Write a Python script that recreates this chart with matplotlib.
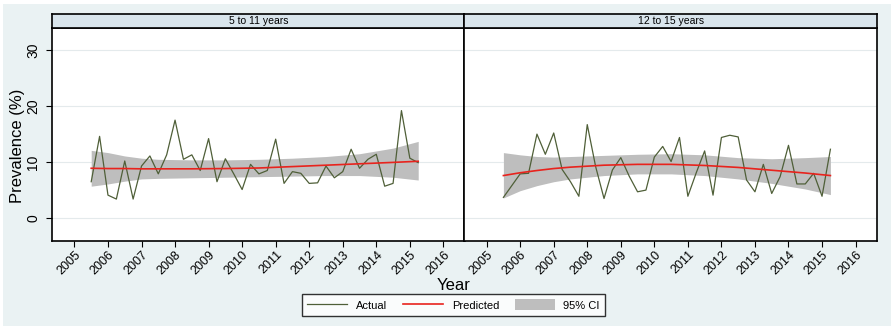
import numpy as np
import matplotlib.pyplot as plt
from matplotlib.patches import Rectangle, Patch
from matplotlib.lines import Line2D

plt.rcParams['font.family'] = ['Liberation Sans', 'DejaVu Sans']

# quarterly time points, 2005 Q3 .. 2015 Q2
quarters = np.arange(2005.5, 2015.3, 0.25)

actual_5_11 = [6.5, 14.6, 4.1, 3.4, 10.2, 3.4, 9.3, 11.1, 7.9, 11.3,
               17.5, 10.5, 11.3, 8.5, 14.2, 6.5, 10.6, 7.9, 5.1, 9.6,
               7.9, 8.5, 14.1, 6.2, 8.3, 8.0, 6.2, 6.3, 9.3, 7.2,
               8.3, 12.3, 8.9, 10.5, 11.4, 5.7, 6.2, 19.2, 10.7, 9.9]
actual_12_15 = [3.7, 5.8, 7.9, 8.0, 15.0, 11.4, 15.2, 8.7, 6.5, 3.9,
                16.7, 9.2, 3.5, 8.6, 10.8, 7.5, 4.7, 5.0, 10.9, 12.8,
                10.1, 14.4, 3.9, 8.1, 12.0, 4.1, 14.4, 14.8, 14.5, 6.8,
                4.7, 9.6, 4.4, 7.4, 13.0, 6.1, 6.1, 8.0, 3.9, 12.3]

# fitted values and 95% CI read at these years
fit_years = [2005.5, 2006.0, 2006.5, 2007.0, 2007.5, 2008.5, 2009.5,
             2010.5, 2011.5, 2012.5, 2013.5, 2014.5, 2015.25]
pred_5_11 = [8.9, 8.85, 8.85, 8.8, 8.8, 8.8, 8.85, 8.95, 9.2, 9.45, 9.7, 9.95, 10.15]
upper_5_11 = [12.1, 11.7, 11.1, 10.7, 10.5, 10.4, 10.4, 10.5, 10.7, 11.0, 11.5, 12.5, 13.7]
lower_5_11 = [5.7, 6.1, 6.6, 7.0, 7.1, 7.2, 7.3, 7.4, 7.5, 7.6, 7.6, 7.3, 6.8]
pred_12_15 = [7.6, 8.1, 8.5, 8.85, 9.1, 9.45, 9.6, 9.6, 9.4, 9.05, 8.55, 8.05, 7.6]
upper_12_15 = [11.7, 11.3, 11.0, 10.9, 11.0, 11.2, 11.4, 11.5, 11.3, 10.8, 10.6, 10.8, 11.0]
lower_12_15 = [3.6, 4.9, 5.8, 6.5, 7.0, 7.6, 7.9, 7.9, 7.6, 7.0, 6.2, 5.2, 4.2]

panels = [
    ('5 to 11 years', actual_5_11, pred_5_11, upper_5_11, lower_5_11),
    ('12 to 15 years', actual_12_15, pred_12_15, upper_12_15, lower_12_15),
]
year_ticks = list(range(2005, 2017))

bg = '#eaf2f3'
strip = '#d9e5ec'
c_actual = '#4f5f38'
c_pred = '#e8231d'
c_ci = '#bebebe'

fig = plt.figure(figsize=(8.94, 3.30), dpi=100, facecolor='white')
fig.patches.append(Rectangle((3 / 894, 4 / 330), 888 / 894, 322 / 330,
                             transform=fig.transFigure, facecolor=bg,
                             edgecolor='none', zorder=-10))

W, H = 894, 330
left0, width = 52.3, 412.2
top, bottom = 28.3, 240.5
strip_top = 14.0

for i, (title, act, pred, up, lo) in enumerate(panels):
    x0 = left0 + i * width
    ax = fig.add_axes([x0 / W, (H - bottom) / H, width / W, (bottom - top) / H])
    ax.fill_between(fit_years, lo, up, color=c_ci, linewidth=0, zorder=1)
    ax.plot(quarters, act, color=c_actual, lw=0.9, zorder=2)
    ax.plot(fit_years, pred, color=c_pred, lw=1.2, zorder=3)
    ax.set_xlim(2004.34, 2016.63)
    ax.set_ylim(-4.0, 33.9)
    ax.set_yticks([0, 10, 20, 30])
    ax.set_xticks(year_ticks)
    ax.set_xticklabels([str(y) for y in year_ticks], rotation=45,
                       ha='right', va='top', rotation_mode='anchor', fontsize=9)
    ax.grid(axis='y', color='#e4eaec', lw=0.8)
    ax.set_axisbelow(True)
    ax.tick_params(axis='both', length=4, width=0.8, color='black', pad=2)
    if i == 0:
        ax.set_yticklabels(['0', '10', '20', '30'], rotation=90,
                           va='center', fontsize=10)
        ax.tick_params(axis='y', pad=4.5)
        ax.set_ylabel('Prevalence (%)', fontsize=12)
        ax.yaxis.set_label_coords(-0.066, 0.445)
    else:
        ax.tick_params(axis='y', left=False, labelleft=False)
    for s in ax.spines.values():
        s.set_linewidth(1.2)
        s.set_color('black')

    sax = fig.add_axes([x0 / W, (H - top) / H, width / W, (top - strip_top) / H])
    sax.set_facecolor(strip)
    sax.set_xticks([])
    sax.set_yticks([])
    for s in sax.spines.values():
        s.set_linewidth(1.2)
    sax.text(0.5, 0.5, title, ha='center', va='center', fontsize=7.5,
             transform=sax.transAxes)

fig.text(454 / W, 1 - 285 / H, 'Year', ha='center', va='center', fontsize=12)

handles = [Line2D([], [], color=c_actual, lw=0.9),
           Line2D([], [], color=c_pred, lw=1.2),
           Patch(facecolor=c_ci, edgecolor='none')]
leg = fig.legend(handles, ['Actual', 'Predicted', '95% CI'], ncol=3,
                 loc='center', bbox_to_anchor=(453.5 / W, 1 - 305 / H),
                 fontsize=8, frameon=True, fancybox=False, handlelength=3.6,
                 handleheight=1.1, handletextpad=0.8, columnspacing=1.4,
                 borderpad=0.45)
leg.get_frame().set_edgecolor('black')
leg.get_frame().set_linewidth(1.0)
leg.get_frame().set_facecolor('white')

fig.savefig('out.png', dpi=100, facecolor=fig.get_facecolor())
